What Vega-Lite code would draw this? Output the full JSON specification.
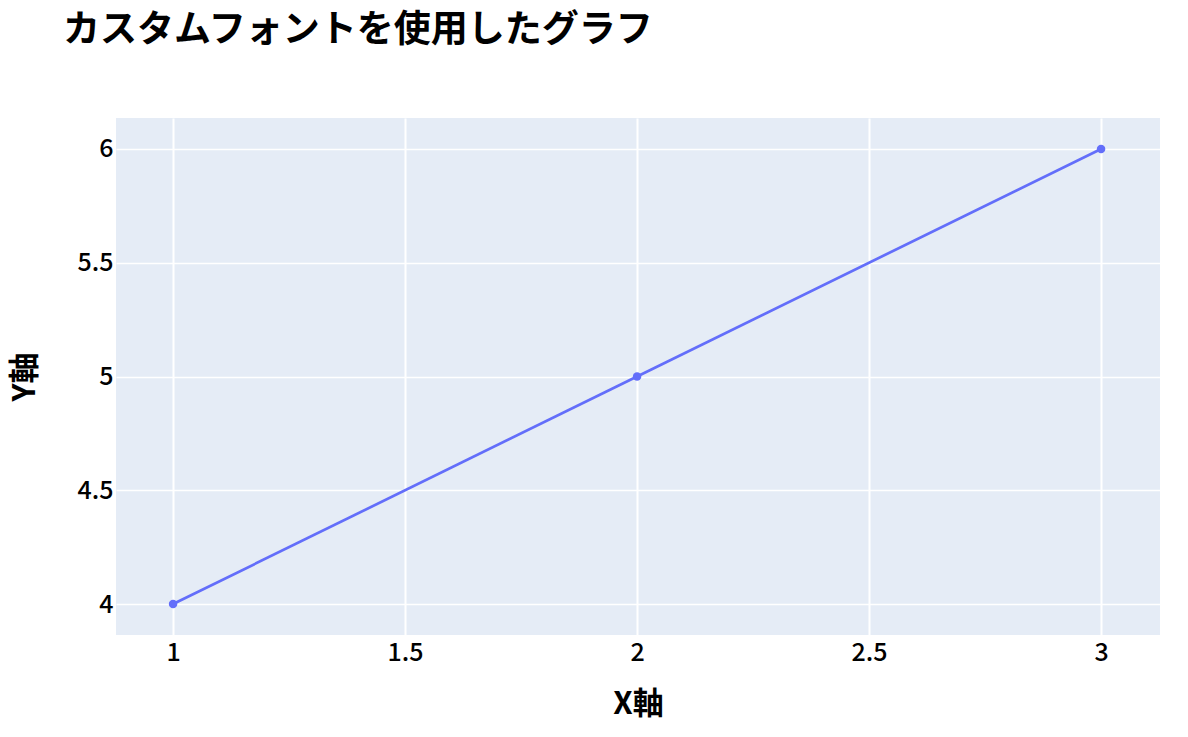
{
  "$schema": "https://vega.github.io/schema/vega-lite/v6.json",
  "width": 1044,
  "height": 517,
  "autosize": {"type": "none"},
  "padding": {"left": 116, "top": 118, "right": 28, "bottom": 102},
  "background": "white",
  "title": {
    "text": "カスタムフォントを使用したグラフ",
    "anchor": "start",
    "frame": "group",
    "font": "Noto Sans CJK JP",
    "fontSize": 37,
    "fontWeight": "bold",
    "color": "black",
    "dx": -53,
    "offset": 68
  },
  "data": {"values": [{"x": 1, "y": 4}, {"x": 2, "y": 5}, {"x": 3, "y": 6}]},
  "mark": {
    "type": "line",
    "color": "#636efa",
    "strokeWidth": 2.7,
    "point": {"filled": true, "size": 72, "color": "#636efa", "opacity": 1}
  },
  "encoding": {
    "x": {
      "field": "x",
      "type": "quantitative",
      "scale": {"domain": [0.877, 3.127], "nice": false, "zero": false},
      "axis": {
        "values": [1, 1.5, 2, 2.5, 3],
        "format": "~g",
        "title": "X軸",
        "titleFont": "Noto Sans CJK JP",
        "titleFontSize": 31,
        "titleFontWeight": "bold",
        "titleColor": "black",
        "titlePadding": 24,
        "labelFont": "Noto Sans CJK JP",
        "labelFontSize": 25,
        "labelFontWeight": 500,
        "labelColor": "black",
        "labelPadding": 5,
        "ticks": false,
        "domain": false,
        "gridColor": "white",
        "gridWidth": 2,
        "gridOpacity": 1,
        "labelFlush": false
      }
    },
    "y": {
      "field": "y",
      "type": "quantitative",
      "scale": {"domain": [3.864, 6.136], "nice": false, "zero": false},
      "axis": {
        "values": [4, 4.5, 5, 5.5, 6],
        "format": "~g",
        "title": "Y軸",
        "titleFont": "Noto Sans CJK JP",
        "titleFontSize": 31,
        "titleFontWeight": "bold",
        "titleColor": "black",
        "titlePadding": 36,
        "labelFont": "Noto Sans CJK JP",
        "labelFontSize": 25,
        "labelFontWeight": 500,
        "labelColor": "black",
        "labelPadding": 3,
        "ticks": false,
        "domain": false,
        "gridColor": "white",
        "gridWidth": 1.5,
        "gridOpacity": 1,
        "labelFlush": false
      }
    }
  },
  "config": {"view": {"fill": "#E5ECF6", "stroke": null}}
}
